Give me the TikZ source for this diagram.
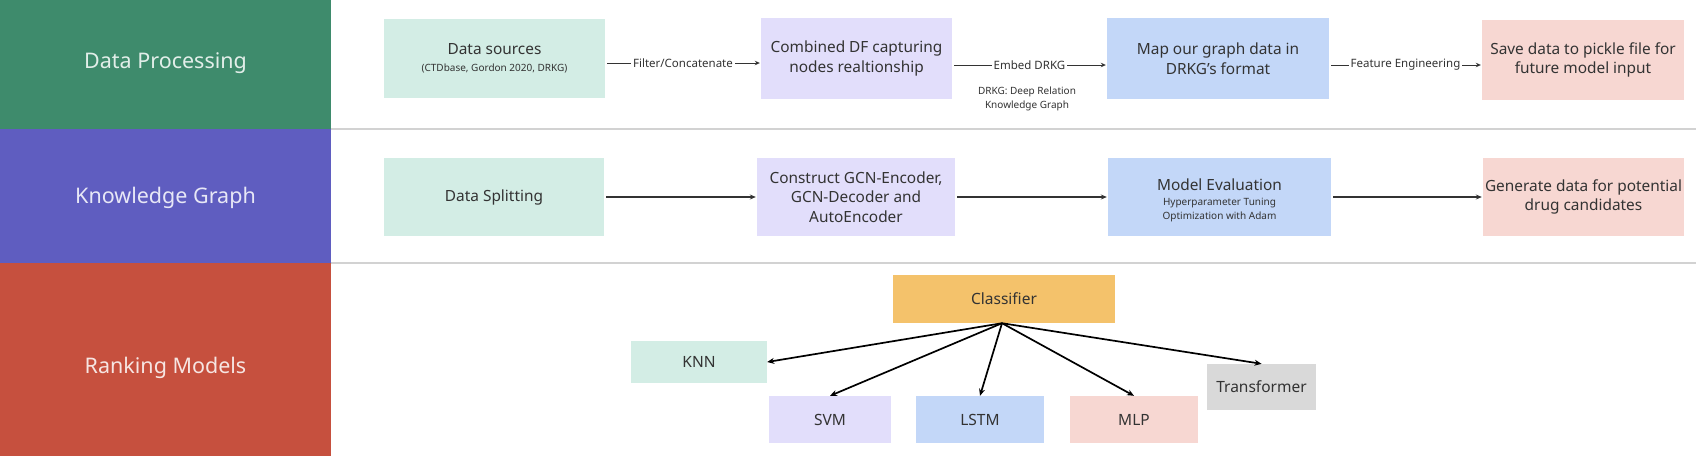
\documentclass[tikz,border=0pt]{standalone}
\usepackage{fontspec}
\setmainfont{Noto Sans}
\usetikzlibrary{arrows.meta}
\definecolor{pgreen}{HTML}{3E8B6C}
\definecolor{ppurple}{HTML}{5F5DC0}
\definecolor{pred}{HTML}{C6503E}
\definecolor{cmint}{HTML}{D3EDE5}
\definecolor{clav}{HTML}{E2DEFB}
\definecolor{cblue}{HTML}{C3D7F8}
\definecolor{cpink}{HTML}{F7D7D2}
\definecolor{corange}{HTML}{F4C26B}
\definecolor{cgray}{HTML}{D9D9D9}
\definecolor{tdark}{HTML}{333333}
\definecolor{sepc}{HTML}{D2D2D2}
\newcommand\subtxt{\fontsize{10}{12}\selectfont}
\begin{document}
\begin{tikzpicture}[x=1pt,y=-1pt,
  panel/.style={fill=#1, draw=none, inner sep=0pt, text=white!85!#1,
    font=\fontsize{21.5}{24}\selectfont},
  box/.style={fill=#1, draw=none, inner sep=0pt, align=center, text=tdark,
    font=\fontsize{15.4}{19.5}\selectfont},
  sbox/.style={fill=#1, draw=none, inner sep=0pt, align=center, text=tdark,
    font=\fontsize{15.5}{18}\selectfont},
  lab/.style={fill=white, inner sep=2pt, text=tdark, font=\fontsize{11.5}{13}\selectfont},
  arrA/.style={draw=tdark, line width=0.9pt, -{Stealth[length=5pt,width=4.5pt]}, shorten <=2pt, shorten >=1pt},
  arrB/.style={draw=black!80, line width=1.4pt, -{Stealth[length=6pt,width=5pt]}, shorten <=2pt, shorten >=1pt},
  arrC/.style={draw=black, line width=1.7pt, -{Stealth[length=7pt,width=6pt]}},
  sepline/.style={draw=sepc, line width=1.6pt}
]
\useasboundingbox (0,0) rectangle (1696,456);
\fill[white] (0,0) rectangle (1696,456);

% left panels
\fill[pgreen] (0,0) rectangle (331,129);
\fill[ppurple] (0,129) rectangle (331,263);
\fill[pred] (0,263) rectangle (331,456);
\node[panel=pgreen] (p1) at (165.5,63) {Data Processing};
\node[panel=ppurple] (p2) at (165.5,198) {Knowledge Graph};
\node[panel=pred] (p3) at (165.5,368) {Ranking Models};

% separators
\draw[sepline] (331,129) -- (1696,129);
\draw[sepline] (331,263) -- (1696,263);

% row 1
\node[box=cmint, minimum width=221, minimum height=79] (ds) at (494.5,58.5)
  {Data sources\\[-3pt]{\subtxt (CTDbase, Gordon 2020, DRKG)}};
\node[box=clav, minimum width=191, minimum height=81] (comb) at (856.5,58.5)
  {Combined DF capturing\\nodes realtionship};
\node[box=cblue, minimum width=222, minimum height=81] (map) at (1218,58.5)
  {Map our graph data in\\DRKG's format};
\node[box=cpink, minimum width=202, minimum height=80] (save) at (1583,60)
  {Save data to pickle file for\\future model input};

\draw[arrA] ([yshift=-4.5pt]ds.east) -- node[lab] {Filter/Concatenate} ([yshift=-4.5pt]comb.west);
\draw[arrA] ([yshift=-6.5pt]comb.east) -- node[lab] (emb) {Embed DRKG} ([yshift=-6.5pt]map.west);
\draw[arrA] ([yshift=-6.5pt]map.east) -- node[lab] {Feature Engineering} ([yshift=-5pt]save.west);
\node[align=center, text=tdark, font=\fontsize{10}{13.5}\selectfont] (note) at (1027,99)
  {DRKG: Deep Relation\\Knowledge Graph};

% row 2
\node[box=cmint, minimum width=220, minimum height=78] (split) at (494,197) {Data Splitting};
\node[box=clav, minimum width=198, minimum height=78] (gcn) at (856,197)
  {Construct GCN-Encoder,\\GCN-Decoder and\\AutoEncoder};
\node[box=cblue, minimum width=223, minimum height=78] (eval) at (1219.5,197) {};
\node[align=center, text=tdark, inner sep=0pt, font=\fontsize{15.4}{19.5}\selectfont] (evaltxt) at (1219.5,200)
  {Model Evaluation\\[-4pt]{\subtxt Hyperparameter Tuning}\\[-6pt]{\subtxt Optimization with Adam}};
\node[box=cpink, minimum width=201, minimum height=78] (gen) at (1583.5,197)
  {Generate data for potential\\drug candidates};

\draw[arrB] (split) -- (gcn);
\draw[arrB] (gcn) -- (eval);
\draw[arrB] (eval) -- (gen);

% row 3
\node[sbox=corange, minimum width=222, minimum height=48] (cls) at (1004,299) {Classifier};
\node[sbox=cmint, minimum width=136, minimum height=42] (knn) at (699,362) {KNN};
\node[sbox=clav, minimum width=122, minimum height=47] (svm) at (830,419.5) {SVM};
\node[sbox=cblue, minimum width=128, minimum height=47] (lstm) at (980,419.5) {LSTM};
\node[sbox=cpink, minimum width=128, minimum height=47] (mlp) at (1134,419.5) {MLP};
\node[sbox=cgray, minimum width=109, minimum height=46] (trans) at (1261.5,387) {Transformer};

\coordinate (hub) at ([xshift=-2pt]cls.south);
\draw[arrC] (hub) -- (knn.east);
\draw[arrC] (hub) -- (svm.north);
\draw[arrC] (hub) -- (lstm.north);
\draw[arrC] (hub) -- (mlp.north);
\draw[arrC] (hub) -- (trans.north);
\end{tikzpicture}
\end{document}
